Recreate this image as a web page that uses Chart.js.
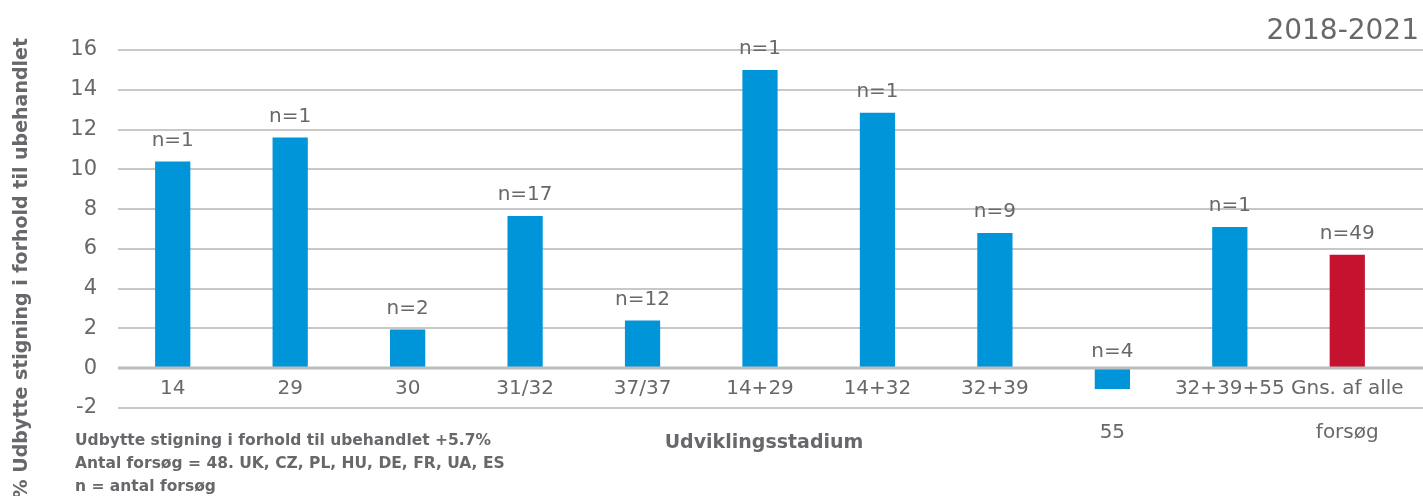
<!DOCTYPE html>
<html>
<head>
<meta charset="utf-8">
<script src="https://cdn.jsdelivr.net/npm/chart.js@4"></script>
<style>
  html, body { margin: 0; padding: 0; background: #fff; }
  canvas { display: block; }
</style>
</head>
<body>
<canvas id="yieldChart" width="1423" height="496"></canvas>
<script>
// Udbytte stigning pr. udviklingsstadium
const stages = ['14', '29', '30', '31/32', '37/37', '14+29', '14+32', '32+39', ['', '55'], '32+39+55', ['Gns. af alle', 'forsøg']];
const yieldGain = [10.4, 11.6, 1.95, 7.65, 2.4, 15.0, 12.85, 6.8, -1.05, 7.1, 5.7];
const trialCounts = ['n=1', 'n=1', 'n=2', 'n=17', 'n=12', 'n=1', 'n=1', 'n=9', 'n=4', 'n=1', 'n=49'];
const barColors = ['#0094d8', '#0094d8', '#0094d8', '#0094d8', '#0094d8', '#0094d8', '#0094d8', '#0094d8', '#0094d8', '#0094d8', '#c4122f'];
const yTicks = [-2, 16, 2];   // min, max, step
const notes = [
    'Udbytte stigning i forhold til ubehandlet +5.7%',
    'Antal forsøg = 48. UK, CZ, PL, HU, DE, FR, UA, ES',
    'n = antal forsøg'
];

const grey = '#67686b';
const fontFamily = '"DejaVu Sans", sans-serif';

// horizontal grid lines run to the right edge of the picture
const gridLines = {
    id: 'gridLines',
    beforeDatasetsDraw(chart) {
        const { ctx, scales: { y }, chartArea } = chart;
        ctx.save();
        ctx.strokeStyle = '#c8c8c9';
        ctx.lineWidth = 2;
        y.ticks.forEach(t => {
            if (t.value === 0) return;
            const py = Math.round(y.getPixelForValue(t.value));
            ctx.beginPath();
            ctx.moveTo(chartArea.left + 4, py);
            ctx.lineTo(chart.width, py);
            ctx.stroke();
        });
        ctx.restore();
    },
    afterDatasetsDraw(chart) {
        const { ctx, scales: { y }, chartArea } = chart;
        const py = Math.round(y.getPixelForValue(0));
        ctx.save();
        ctx.strokeStyle = '#bcbdc0';
        ctx.lineWidth = 3;
        ctx.beginPath();
        ctx.moveTo(chartArea.left + 4, py);
        ctx.lineTo(chart.width, py);
        ctx.stroke();
        ctx.restore();
    }
};

// n= labels over the bars
const countLabels = {
    id: 'countLabels',
    afterDatasetsDraw(chart) {
        const { ctx, scales: { y } } = chart;
        const meta = chart.getDatasetMeta(0);
        ctx.save();
        ctx.font = '20px ' + fontFamily;
        ctx.fillStyle = grey;
        ctx.textAlign = 'center';
        ctx.textBaseline = 'middle';
        meta.data.forEach((bar, i) => {
            const v = yieldGain[i];
            const py = v >= 0 ? bar.y - 21 : y.getPixelForValue(0) - 16;
            ctx.fillText(trialCounts[i], bar.x, py);
        });
        ctx.restore();
    }
};

// titles and notes
const extraText = {
    id: 'extraText',
    afterDraw(chart) {
        const { ctx } = chart;
        ctx.save();
        ctx.fillStyle = grey;

        ctx.font = '28px ' + fontFamily;
        ctx.textAlign = 'right';
        ctx.textBaseline = 'middle';
        ctx.fillText('2018-2021', 1419, 32);

        ctx.font = 'bold 19px ' + fontFamily;
        ctx.textAlign = 'center';
        ctx.fillText('Udviklingsstadium', 764, 443);

        ctx.font = 'bold 15.5px ' + fontFamily;
        ctx.textAlign = 'left';
        notes.forEach((line, i) => ctx.fillText(line, 75, 441 + i * 23));

        ctx.translate(22, 38);
        ctx.rotate(-Math.PI / 2);
        ctx.font = 'bold 19px ' + fontFamily;
        ctx.textAlign = 'right';
        ctx.fillText('% Udbytte stigning i forhold til ubehandlet', 0, 0);
        ctx.restore();
    }
};

const ctx = document.getElementById('yieldChart').getContext('2d');
new Chart(ctx, {
    type: 'bar',
    data: {
        labels: stages,
        datasets: [{
            data: yieldGain,
            backgroundColor: barColors,
            barPercentage: 0.3,
            categoryPercentage: 1
        }]
    },
    options: {
        responsive: false,
        animation: false,
        layout: { padding: { top: 50, bottom: 88, left: 0, right: 17 } },
        plugins: {
            legend: { display: false },
            tooltip: { enabled: false }
        },
        scales: {
            x: {
                position: { y: 0 },
                grid: { display: false },
                border: { display: false },
                ticks: {
                    color: grey,
                    font: { family: fontFamily, size: 20, lineHeight: 2.2 },
                    padding: -9,
                    maxRotation: 0,
                    autoSkip: false
                }
            },
            y: {
                min: yTicks[0],
                max: yTicks[1],
                grid: { display: false, drawTicks: false },
                border: { display: false },
                ticks: {
                    stepSize: yTicks[2],
                    color: grey,
                    font: { family: fontFamily, size: 21 },
                    padding: 17
                },
                afterFit(scale) { scale.width = 114; }
            }
        }
    },
    plugins: [gridLines, countLabels, extraText]
});
</script>
</body>
</html>
